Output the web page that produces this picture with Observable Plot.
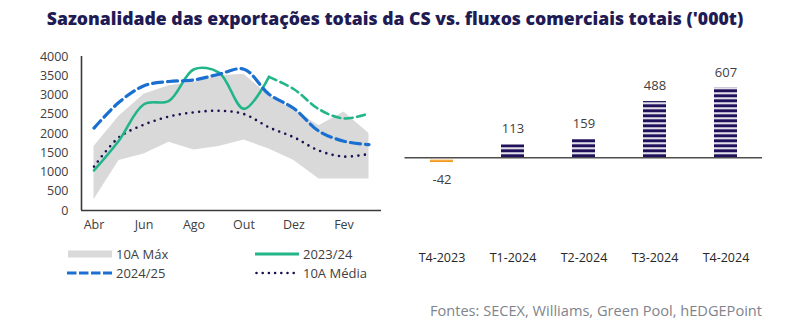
<!DOCTYPE html>
<html>
<head>
<meta charset="utf-8">
<script src="https://cdn.jsdelivr.net/npm/d3@7"></script>
<script src="https://cdn.jsdelivr.net/npm/@observablehq/plot@0.6"></script>
<style>
  html, body { margin: 0; padding: 0; background: #fff; }
  body { width: 790px; height: 333px; position: relative; overflow: hidden; font-family: "Open Sans", sans-serif; }
  #title { position: absolute; left: 0; width: 790px; top: 6px; text-align: center; font-weight: 800; color: #1f1b55; white-space: nowrap; }
  #left { position: absolute; left: 0; top: 0; }
  #right { position: absolute; left: 390px; top: 0; }
  .leg { position: absolute; font-size: 13px; color: #404040; display: flex; align-items: center; height: 16px; white-space: nowrap; }
  .leg svg { margin-right: 4px; }
  #source { position: absolute; right: 28px; top: 300px; font-size: 14.6px; color: #80848c; white-space: nowrap; }
</style>
</head>
<body>
<div id="left"></div>
<div id="right"></div>
<div id="title">Sazonalidade das exportações totais da CS vs. fluxos comerciais totais ('000t)</div>
<div class="leg" style="left:68px; top:246px;"><svg width="44" height="8"><rect x="0" y="0.5" width="44" height="7" fill="#d9d9d9"/></svg>10A Máx</div>
<div class="leg" style="left:255px; top:246px;"><svg width="44" height="8"><line x1="0" x2="44" y1="4" y2="4" stroke="#22b58a" stroke-width="3"/></svg>2023/24</div>
<div class="leg" style="left:67px; top:265px;"><svg width="45" height="8"><line x1="0" x2="45" y1="4" y2="4" stroke="#1a6fd1" stroke-width="3.2" stroke-dasharray="9.5,2.5"/></svg>2024/25</div>
<div class="leg" style="left:255px; top:265px;"><svg width="44" height="8"><line x1="1.5" x2="44" y1="4" y2="4" stroke="#1c0f4f" stroke-width="2.6" stroke-linecap="round" stroke-dasharray="0,6.2"/></svg>10A Média</div>
<div id="source">Fontes: SECEX, Williams, Green Pool, hEDGEPoint</div>
<script>
// ---- Data ----
const months = ["Abr","Mai","Jun","Jul","Ago","Set","Out","Nov","Dez","Jan","Fev","Mar"];
const max10  = [1660,2450,3020,3240,3330,3500,3540,2980,2620,2200,2560,2000];
const min10  = [ 280,1300,1470,1770,1570,1660,1830,1600,1300, 820, 820, 820];
const s2324  = [1040,1820,2760,2850,3670,3580,2640,3470,3150,2630,2390,2520];
const s2425  = [2140,2810,3240,3350,3390,3540,3670,3020,2650,2060,1800,1710];
const avg10  = [1140,1900,2230,2440,2550,2590,2505,2160,1900,1555,1400,1470];
const yTicks = [0,500,1000,1500,2000,2500,3000,3500,4000];
const xTickIdx = [0,2,4,6,8,10];

const quarters = ["T4-2023","T1-2024","T2-2024","T3-2024","T4-2024"];
const flows    = [-42,113,159,488,607];

// ---- Left chart ----
const idx = months.map((m, i) => i);
const solidIdx = idx.filter(i => i <= 7);
const dashIdx = idx.filter(i => i >= 7);

const left = Plot.plot({
  width: 390, height: 240,
  marginLeft: 81, marginRight: 9, marginTop: 56, marginBottom: 30,
  style: { fontFamily: "Open Sans", fontSize: "12.5px", color: "#404040", background: "transparent" },
  x: { domain: [-0.5, 11.5], ticks: xTickIdx, tickFormat: i => months[i], tickSize: 0, tickPadding: 10, label: null },
  y: { domain: [0, 4000], ticks: yTicks, tickFormat: d => String(d), tickSize: 0, tickPadding: 13, label: null },
  marks: [
    Plot.areaY(idx, { x: i => i, y1: i => min10[i], y2: i => max10[i], fill: "#d9d9d9" }),
    Plot.lineY(idx, { x: i => i, y: i => avg10[i], curve: "catmull-rom", stroke: "#1c0f4f", strokeWidth: 2.6, strokeLinecap: "round", strokeDasharray: "0,6.5" }),
    Plot.lineY(solidIdx, { x: i => i, y: i => s2324[i], curve: "catmull-rom", stroke: "#22b58a", strokeWidth: 2.6 }),
    Plot.lineY(dashIdx, { x: i => i, y: i => s2324[i], curve: "catmull-rom", stroke: "#22b58a", strokeWidth: 2.6, strokeDasharray: "8,4.5" }),
    Plot.lineY(idx, { x: i => i, y: i => s2425[i], curve: "catmull-rom", stroke: "#1a6fd1", strokeWidth: 3.2, strokeDasharray: "10,5" }),
    Plot.ruleX([-0.5], { stroke: "#3a3a3a", strokeWidth: 1.6 }),
    Plot.ruleY([0], { stroke: "#3a3a3a", strokeWidth: 1.6 })
  ]
});
document.getElementById("left").appendChild(left);

// ---- Right chart ----
const qi = quarters.map((q, i) => i);
const right = Plot.plot({
  width: 400, height: 270,
  marginLeft: 14.5, marginRight: 28, marginTop: 42, marginBottom: 25,
  style: { fontFamily: "Open Sans", fontSize: "12.5px", color: "#262626", background: "transparent" },
  x: { domain: quarters, paddingInner: 0.68, paddingOuter: 0.34, tickSize: 0, tickPadding: 8, label: null },
  y: { domain: [-760, 1000], axis: null },
  marks: [
    Plot.barY(qi.filter(i => flows[i] >= 0), { x: i => quarters[i], y: i => flows[i], fill: "url(#stripesPos)" }),
    Plot.barY(qi.filter(i => flows[i] < 0), { x: i => quarters[i], y: i => flows[i], fill: "url(#stripesNeg)" }),
    Plot.ruleY([0], { stroke: "#4d4d4d", strokeWidth: 1.5 }),
    Plot.text(qi.filter(i => flows[i] >= 0), { x: i => quarters[i], y: i => flows[i], text: i => String(flows[i]), dy: -15.5, fontSize: 13, fill: "#404040" }),
    Plot.text(qi.filter(i => flows[i] < 0), { x: i => quarters[i], y: i => flows[i], text: i => String(flows[i]), dy: 17, fontSize: 13, fill: "#404040" })
  ]
});
document.getElementById("right").appendChild(right);

// stripe patterns aligned to zero line
const zeroY = right.scale("y").apply(0);
const defs = d3.select(right).insert("defs", ":first-child");
const pos = defs.append("pattern").attr("id", "stripesPos").attr("patternUnits", "userSpaceOnUse")
  .attr("width", 10).attr("height", 5).attr("y", zeroY);
pos.append("rect").attr("x", 0).attr("y", 1.8).attr("width", 10).attr("height", 3.2).attr("fill", "#21105a");
const neg = defs.append("pattern").attr("id", "stripesNeg").attr("patternUnits", "userSpaceOnUse")
  .attr("width", 10).attr("height", 5).attr("y", zeroY);
neg.append("rect").attr("x", 0).attr("y", 2.5).attr("width", 10).attr("height", 2.5).attr("fill", "#f39a1e");

// fit title width
const title = document.getElementById("title");
title.style.fontSize = "17px";
const span = document.createElement("span");
span.textContent = title.textContent;
title.textContent = "";
title.appendChild(span);
const w = span.getBoundingClientRect().width;
title.style.fontSize = (17 * 697 / w) + "px";
</script>
</body>
</html>
